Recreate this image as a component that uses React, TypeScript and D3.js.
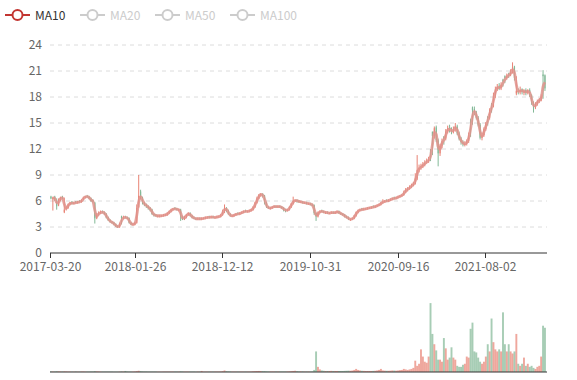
import React from 'react';
import * as d3 from 'd3';

// ---- data (weekly candles) ----
const startDay = '2017-03-20';
const endDay = '2022-03-18';
const xTickLabels = ['2017-03-20', '2018-01-26', '2018-12-12', '2019-10-31', '2020-09-16', '2021-08-02'];
const yTicks = [0, 3, 6, 9, 12, 15, 18, 21, 24];
const legendNames = ['MA10', 'MA20', 'MA50', 'MA100'];
const activeLegend = ['MA10'];

const closeVals = [
  6.3,6.4,6.2,5.4,6.2,6.4,6.3,5.0,5.3,5.6,
  5.8,5.7,5.8,5.8,5.9,5.9,6.1,6.4,6.5,6.5,
  6.3,6.0,5.9,4.0,4.4,4.6,4.7,4.7,4.5,4.1,
  3.8,3.6,3.5,3.3,3.1,3.0,3.4,4.0,4.1,4.1,
  4.0,3.5,3.3,3.3,3.5,5.2,6.6,6.4,5.8,5.6,
  5.4,5.2,5.0,4.5,4.4,4.3,4.3,4.3,4.3,4.4,
  4.4,4.6,4.8,5.0,5.1,5.1,5.0,5.0,4.2,3.9,
  4.2,4.4,4.6,4.3,4.1,4.0,3.9,4.0,3.9,4.0,
  4.0,4.1,4.1,4.1,4.2,4.1,4.1,4.2,4.2,4.4,
  4.8,5.2,4.9,4.5,4.3,4.3,4.4,4.5,4.5,4.6,
  4.7,4.8,4.8,4.8,4.9,5.0,5.3,5.8,6.3,6.7,
  6.8,6.6,5.8,5.3,5.2,5.2,5.3,5.4,5.3,5.4,
  5.3,5.2,5.0,4.9,5.0,5.3,5.7,6.0,6.1,6.0,
  5.9,5.9,5.8,5.8,5.7,5.7,5.6,5.5,4.6,4.2,
  4.7,4.8,4.8,4.7,4.7,4.6,4.6,4.7,4.6,4.7,
  4.8,4.6,4.5,4.4,4.2,4.1,3.9,3.9,4.0,4.3,
  4.7,4.9,5.0,5.0,5.1,5.1,5.2,5.2,5.3,5.3,
  5.4,5.5,5.6,5.8,5.9,6.0,6.0,6.1,6.2,6.3,
  6.3,6.4,6.5,6.6,6.7,7.0,7.3,7.4,7.6,7.8,
  8.0,8.6,9.6,9.8,10.0,10.2,10.4,10.6,10.8,11.5,
  13.5,14.4,13.0,11.5,12.4,12.9,13.2,14.0,14.4,14.2,
  14.0,14.3,14.6,13.8,13.2,12.8,12.6,12.6,12.9,13.6,
  15.0,16.5,16.2,15.6,14.8,13.3,13.6,14.3,14.9,15.6,
  16.5,17.0,18.2,18.9,19.2,19.0,19.4,19.8,20.2,20.4,
  20.6,20.9,21.4,20.2,18.7,18.6,18.8,18.6,18.7,18.5,
  18.8,18.2,17.3,16.8,17.2,17.5,17.7,18.0,20.4,19.0,
];

const openVals = [
  6.5,6.2,6.5,6.1,5.5,6.1,6.5,4.7,5.1,5.2,
  5.6,5.9,5.7,5.9,5.8,6.0,5.9,6.2,6.4,6.6,
  6.5,6.3,6.1,5.8,4.0,4.5,4.6,4.8,4.7,4.5,
  4.1,3.8,3.6,3.5,3.3,3.1,3.0,4.2,4.0,4.2,
  4.1,4.0,3.5,3.3,3.3,3.5,5.3,7.1,6.4,5.8,
  5.6,5.4,5.2,5.0,4.5,4.4,4.3,4.2,4.3,4.3,
  4.4,4.4,4.6,4.8,5.0,5.2,5.1,5.0,5.0,4.2,
  3.9,4.2,4.4,4.6,4.3,4.1,4.0,3.9,4.0,3.9,
  4.0,4.0,4.1,4.2,4.1,4.2,4.1,4.1,4.2,4.2,
  4.4,4.8,5.2,4.9,4.5,4.3,4.3,4.4,4.6,4.5,
  4.6,4.7,4.9,4.8,4.8,4.9,5.0,5.3,5.8,6.3,
  6.7,6.8,6.6,5.8,5.3,5.2,5.2,5.3,5.4,5.3,
  5.4,5.3,5.2,5.0,4.9,5.0,5.3,5.7,6.0,6.1,
  6.0,5.9,5.9,5.8,5.8,5.7,5.7,5.6,5.5,4.6,
  4.2,4.7,4.9,4.8,4.6,4.7,4.6,4.6,4.7,4.6,
  4.7,4.8,4.6,4.5,4.4,4.2,4.1,3.9,3.9,4.0,
  4.3,4.7,4.9,5.1,5.0,5.1,5.1,5.2,5.2,5.4,
  5.3,5.4,5.5,5.6,5.8,5.9,6.1,6.0,6.1,6.2,
  6.4,6.3,6.4,6.5,6.6,6.7,7.0,7.3,7.4,7.6,
  7.8,8.0,8.6,9.6,9.9,10.0,10.2,10.5,10.6,11.9,
  14.0,13.5,14.5,13.0,11.5,12.4,13.4,13.2,14.0,14.5,
  14.2,14.0,14.3,14.6,13.8,13.2,12.8,12.5,12.6,12.9,
  15.3,16.8,16.6,16.2,15.6,14.8,13.3,13.6,14.3,15.7,
  15.6,17.2,17.0,18.2,18.9,19.3,19.0,20.0,20.4,20.2,
  20.7,20.6,20.9,21.5,18.4,18.7,18.6,18.9,18.5,18.8,
  18.5,18.8,18.2,17.3,16.8,17.2,17.5,17.6,20.6,20.5,
];

const highVals = [
  6.6,6.5,6.6,6.3,6.3,6.5,6.6,6.4,5.4,5.7,
  5.9,6.0,5.9,6.0,6.0,6.1,6.2,6.5,6.6,6.7,
  6.6,6.4,6.2,5.9,4.6,4.8,4.9,4.9,4.8,4.6,
  4.2,3.9,3.7,3.6,3.4,3.2,3.5,4.3,4.3,4.3,
  4.2,4.1,3.6,3.5,3.6,5.6,9.0,7.3,6.5,5.9,
  5.7,5.5,5.3,5.1,4.6,4.5,4.4,4.4,4.4,4.5,
  4.5,4.7,4.9,5.1,5.2,5.3,5.2,5.1,5.1,4.3,
  4.3,4.5,4.7,4.7,4.4,4.2,4.1,4.1,4.1,4.1,
  4.1,4.2,4.2,4.3,4.3,4.3,4.2,4.3,4.3,4.5,
  5.0,5.6,5.3,5.0,4.6,4.4,4.5,4.6,4.7,4.7,
  4.8,4.9,5.0,4.9,5.0,5.1,5.4,5.9,6.5,6.8,
  6.9,6.9,6.7,5.9,5.4,5.3,5.4,5.5,5.5,5.5,
  5.5,5.4,5.3,5.1,5.1,5.4,5.8,6.5,6.2,6.2,
  6.1,6.0,6.0,5.9,5.9,5.8,5.8,5.7,5.6,4.7,
  4.8,4.9,5.0,4.9,4.8,4.8,4.7,4.8,4.8,4.8,
  4.9,4.9,4.7,4.6,4.5,4.3,4.2,4.0,4.1,4.4,
  4.8,5.0,5.1,5.2,5.2,5.2,5.3,5.3,5.4,5.5,
  5.5,5.6,5.7,5.9,6.2,6.1,6.2,6.2,6.3,6.4,
  6.5,6.5,6.6,6.7,6.8,7.2,7.5,7.6,7.8,8.0,
  8.2,9.2,11.3,10.2,10.3,10.5,10.7,10.9,11.1,12.0,
  14.0,14.6,14.7,13.2,12.6,13.2,13.5,14.3,14.7,14.8,
  14.5,14.6,15.0,14.8,14.0,13.4,13.0,12.9,13.1,13.9,
  15.5,16.9,16.9,16.4,15.8,15.0,13.9,14.5,15.1,15.8,
  16.7,17.3,18.5,19.2,19.5,19.6,19.7,20.1,20.5,20.7,
  20.8,21.2,22.0,21.6,20.4,19.0,19.2,19.0,18.9,19.0,
  18.9,19.0,18.3,17.5,17.4,17.7,17.9,18.3,21.1,20.6,
];

const lowVals = [
  6.2,4.9,6.0,5.0,5.4,6.0,6.2,4.6,4.9,5.1,
  5.5,5.6,5.6,5.7,5.7,5.8,5.8,6.1,6.3,6.4,
  6.2,5.9,5.8,3.4,3.9,4.3,4.5,4.6,4.4,4.0,
  3.7,3.5,3.4,3.2,3.0,2.9,2.9,3.3,3.9,4.0,
  3.9,3.4,3.2,3.2,3.2,3.4,5.2,6.2,5.6,5.4,
  5.2,5.0,4.8,4.4,4.2,4.2,4.1,4.1,4.2,4.2,
  4.3,4.3,4.5,4.7,4.9,5.0,4.9,4.8,3.7,3.8,
  3.8,4.0,4.3,4.2,4.0,3.9,3.8,3.8,3.8,3.8,
  3.9,3.9,4.0,4.0,4.0,4.0,4.0,4.0,4.1,4.1,
  4.3,4.6,4.7,4.4,4.2,4.2,4.2,4.3,4.4,4.4,
  4.5,4.6,4.7,4.7,4.7,4.8,4.9,5.2,5.7,6.2,
  6.5,6.4,5.6,5.2,5.1,5.0,5.1,5.2,5.2,5.2,
  5.2,5.1,4.8,4.7,4.8,4.9,5.2,5.6,5.9,5.8,
  5.8,5.8,5.7,5.7,5.6,5.6,5.5,5.4,4.4,3.7,
  4.1,4.6,4.7,4.6,4.5,4.5,4.5,4.5,4.5,4.5,
  4.6,4.5,4.4,4.3,4.1,4.0,3.8,3.7,3.8,3.9,
  4.2,4.6,4.8,4.9,4.9,5.0,5.0,5.1,5.1,5.2,
  5.2,5.3,5.4,5.5,5.7,5.8,5.9,5.9,6.0,6.1,
  6.2,6.2,6.3,6.4,6.5,6.6,6.9,7.1,7.3,7.5,
  7.7,7.9,8.4,9.3,9.6,9.8,10.0,10.3,10.4,10.6,
  11.3,13.2,12.8,10.0,11.2,12.1,12.5,13.0,13.8,13.9,
  13.7,13.8,14.0,13.6,13.0,12.5,12.3,12.3,12.4,12.7,
  13.4,14.8,15.9,15.4,14.6,13.1,13.0,13.4,14.1,14.7,
  15.4,16.2,16.8,17.9,18.7,18.8,18.8,19.2,19.6,20.0,
  20.2,20.4,20.7,19.9,18.2,18.3,18.3,18.3,18.2,18.2,
  18.3,18.0,17.1,16.2,16.6,17.0,17.3,17.5,17.8,18.7,
];

const volumeVals = [
  0.6,0.5,0.5,0.7,0.6,0.5,0.5,0.6,0.5,0.4,
  0.4,0.4,0.4,0.5,0.4,0.4,0.5,0.5,0.4,0.4,
  0.4,0.5,0.5,0.8,0.6,0.5,0.4,0.4,0.4,0.4,
  0.4,0.4,0.4,0.3,0.3,0.3,0.4,0.6,0.5,1.0,
  0.5,0.4,0.4,0.4,0.5,0.8,1.2,0.8,0.6,0.5,
  0.5,0.4,0.4,0.4,0.4,0.4,0.3,0.3,0.3,0.4,
  0.4,0.4,0.4,0.4,0.4,0.4,0.4,0.4,0.6,0.5,
  0.4,0.4,0.4,0.4,0.4,0.4,0.3,0.4,0.4,1.0,
  0.4,0.4,0.4,0.4,0.4,0.4,0.4,0.4,0.4,0.5,
  0.8,1.5,0.8,0.6,0.5,0.4,0.4,0.4,0.4,0.4,
  0.4,0.4,0.4,0.4,0.4,0.5,0.7,0.8,0.9,1.0,
  0.9,0.8,0.8,0.6,0.5,0.5,0.5,0.5,0.5,0.5,
  0.5,0.5,0.5,0.5,0.5,0.6,0.8,1.0,1.2,0.8,
  0.6,0.6,0.6,0.5,0.5,0.5,0.5,0.6,2.0,20,
  5,2.5,1.5,1.2,1.0,1.0,1.0,1.1,1.0,1.0,
  1.0,1.0,1.0,1.0,1.1,1.2,1.3,1.2,1.4,2.0,
  3.0,2.0,1.5,1.2,1.1,1.0,1.0,1.0,1.0,1.1,
  1.2,1.5,2.0,3.0,1.5,1.3,1.2,1.2,1.3,1.5,
  1.4,1.3,1.5,1.8,2.0,3.0,2.5,2.0,2.5,3.0,
  4,11,6,8,22,15,10,9,15,67,
  37,27,21,12,12,10,33,23,12,14,
  24,14,12,6,5,5,7,8,15,14,
  42,48,20,19,14,10,8,10,15,27,
  20,52,29,22,20,22,20,58,27,20,
  27,20,18,20,37,8,6,8,14,6,
  8,5,6,4,3,5,6,15,45,43,
];

// ---- layout ----
const W = 577;
const H = 380;
const LEFT = 50;
const RIGHT = 547;
const MAIN_TOP = 45;
const MAIN_BOTTOM = 253;
const VOL_TOP = 300;
const VOL_BOTTOM = 372;

const UP = '#e0503c';
const DOWN = '#4f9c6c';
const MA_COLOR = '#c23531';
const MA_LINE = '#e0938c';
const FONT = "'Noto Sans CJK SC', 'Liberation Sans', sans-serif";

export default function App() {
  const parse = d3.timeParse('%Y-%m-%d');
  const t0 = parse(startDay) as Date;
  const t1 = parse(endDay) as Date;
  const x = d3.scaleTime().domain([t0, t1]).range([LEFT, RIGHT]);
  const y = d3.scaleLinear().domain([0, 24]).range([MAIN_BOTTOM, MAIN_TOP]);
  const yv = d3.scaleLinear().domain([0, 70]).range([VOL_BOTTOM, VOL_TOP]);

  const n = closeVals.length;
  // one candle per week
  const dates = d3.range(n).map((i) => d3.timeDay.offset(t0, 7 * i));
  const bw = x(d3.timeDay.offset(t0, 7)) - x(t0);
  const cx = (i: number) => x(dates[i]) + bw / 2;

  // MA over 10 trading days = 2 weekly candles
  const ma = closeVals.map((_, i) => (i < 1 ? null : (closeVals[i] + closeVals[i - 1]) / 2));
  const maLine = d3
    .line<number | null>()
    .defined((d) => d !== null)
    .x((_, i) => cx(i))
    .y((d) => y(d as number))
    .curve(d3.curveMonotoneX);

  const bodyW = 1.2;

  return (
    <svg width={W} height={H} style={{ display: 'block', position: 'absolute', left: 0, top: 0, fontFamily: FONT }}>
      <rect width={W} height={H} fill="#fff" />
      {/* legend */}
      {legendNames.map((name, k) => {
        const x0 = 5 + k * 75;
        const on = activeLegend.includes(name);
        const c = on ? MA_COLOR : '#ccc';
        return (
          <g key={name}>
            <line x1={x0} x2={x0 + 25} y1={15} y2={15} stroke={c} strokeWidth={2} />
            <circle cx={x0 + 12.5} cy={15} r={5} fill="#fff" stroke={c} strokeWidth={2} />
            <text x={x0 + 30} y={19.5} fontSize={12} fill={on ? '#333' : '#ccc'}>
              {name}
            </text>
          </g>
        );
      })}

      {/* grid + y labels */}
      {yTicks.map((v) => (
        <g key={v}>
          {v !== 0 && (
            <line x1={LEFT} x2={RIGHT} y1={y(v)} y2={y(v)} stroke="#dcdcdc" strokeDasharray="4,4" strokeWidth={1} />
          )}
          <text x={42} y={y(v) + 4} textAnchor="end" fontSize={12} fill="#666">
            {v}
          </text>
        </g>
      ))}

      {/* candles */}
      {closeVals.map((c, i) => {
        const o = openVals[i];
        const up = c >= o;
        const col = up ? UP : DOWN;
        const top = y(Math.max(o, c));
        const bot = y(Math.min(o, c));
        return (
          <g key={i} opacity={0.7}>
            <line x1={cx(i)} x2={cx(i)} y1={y(highVals[i])} y2={y(lowVals[i])} stroke={col} strokeWidth={1} />
            <rect x={cx(i) - bodyW / 2} y={top} width={bodyW} height={Math.max(1, bot - top)} fill={col} />
          </g>
        );
      })}

      {/* MA10 */}
      <path d={maLine(ma) || ''} fill="none" stroke={MA_LINE} strokeOpacity={0.85} strokeWidth={2.8} />

      {/* x axis */}
      <line x1={LEFT} x2={RIGHT} y1={MAIN_BOTTOM} y2={MAIN_BOTTOM} stroke="#333" strokeWidth={1} />
      {xTickLabels.map((lab) => {
        const xx = Math.round(x(parse(lab) as Date)) + 0.5;
        return (
          <g key={lab}>
            <line x1={xx} x2={xx} y1={MAIN_BOTTOM} y2={MAIN_BOTTOM + 5} stroke="#333" />
            <text x={xx} y={MAIN_BOTTOM + 17.5} textAnchor="middle" fontSize={12} fill="#666">
              {lab}
            </text>
          </g>
        );
      })}

      {/* volume */}
      {volumeVals.map((v, i) => {
        const up = closeVals[i] >= openVals[i];
        return (
          <rect
            key={i}
            x={cx(i) - bw / 2}
            y={yv(v)}
            width={bw}
            height={VOL_BOTTOM - yv(v)}
            fill={up ? UP : DOWN}
            opacity={0.5}
          />
        );
      })}
      <line x1={LEFT} x2={RIGHT} y1={VOL_BOTTOM} y2={VOL_BOTTOM} stroke="#333" strokeWidth={1} />
    </svg>
  );
}
